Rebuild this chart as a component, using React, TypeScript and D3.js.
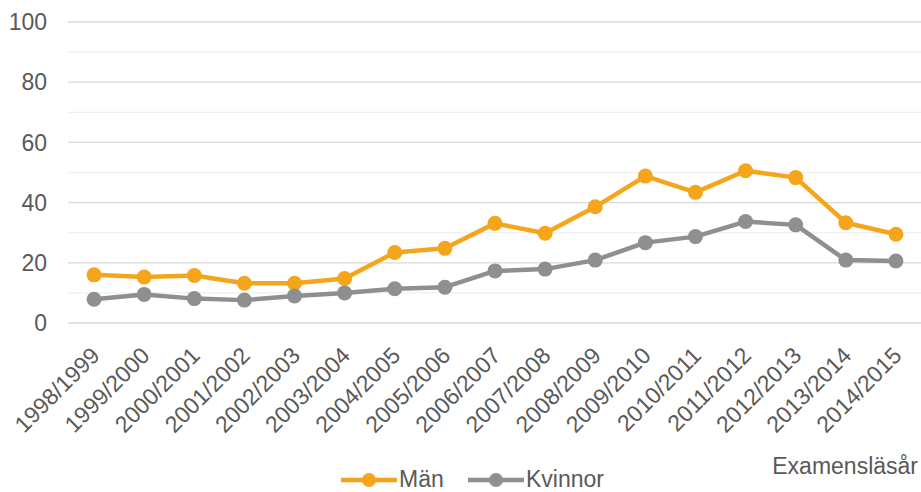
import * as d3 from "d3";
import { useEffect, useRef } from "react";

const years = [
  "1998/1999", "1999/2000", "2000/2001", "2001/2002", "2002/2003", "2003/2004",
  "2004/2005", "2005/2006", "2006/2007", "2007/2008", "2008/2009", "2009/2010",
  "2010/2011", "2011/2012", "2012/2013", "2013/2014", "2014/2015",
];
const man = [16.0, 15.3, 15.8, 13.2, 13.2, 14.8, 23.4, 24.8, 33.1, 29.8, 38.6, 48.8, 43.4, 50.6, 48.3, 33.3, 29.5];
const kvinnor = [7.9, 9.5, 8.1, 7.6, 9.0, 10.0, 11.4, 11.9, 17.3, 17.9, 20.9, 26.7, 28.7, 33.7, 32.6, 20.9, 20.6];
const majorTicks = [0, 20, 40, 60, 80, 100];
const minorTicks = [10, 30, 50, 70, 90];

const series = [
  { name: "Män", values: man, color: "#F4A51C" },
  { name: "Kvinnor", values: kvinnor, color: "#8E8F91" },
];

const W = 921;
const H = 492;
const textColor = "#595959";
const font = "'Liberation Sans', Arial, sans-serif";

function LineChart() {
  const ref = useRef<SVGSVGElement>(null);

  useEffect(() => {
    const svg = d3.select(ref.current);
    svg.selectAll("*").remove();

    const x = d3.scaleBand().domain(years).range([69, 921]);
    const y = d3.scaleLinear().domain([0, 100]).range([323, 22]);
    const cx = (d: string) => (x(d) as number) + x.bandwidth() / 2;

    // gridlines
    svg.append("g")
      .selectAll("line")
      .data(minorTicks)
      .join("line")
      .attr("x1", 68).attr("x2", W)
      .attr("y1", (d) => y(d)).attr("y2", (d) => y(d))
      .attr("stroke", "#f0f0f0").attr("stroke-width", 1.3);

    svg.append("g")
      .selectAll("line")
      .data(majorTicks)
      .join("line")
      .attr("x1", 68).attr("x2", W)
      .attr("y1", (d) => y(d)).attr("y2", (d) => y(d))
      .attr("stroke", "#d9d9d9").attr("stroke-width", 1.3);

    // y labels
    svg.append("g")
      .selectAll("text")
      .data(majorTicks)
      .join("text")
      .attr("x", 47)
      .attr("y", (d) => y(d))
      .attr("dy", "0.36em")
      .attr("text-anchor", "end")
      .text((d) => d);

    // x labels
    svg.append("g")
      .selectAll("text")
      .data(years)
      .join("text")
      .attr("text-anchor", "end")
      .attr("transform", (d) => `translate(${cx(d) + 7},357) rotate(-45)`)
      .text((d) => d);

    const line = d3.line<number>()
      .x((_, i) => cx(years[i]))
      .y((d) => y(d));

    series.forEach((s) => {
      const g = svg.append("g");
      g.append("path")
        .attr("d", line(s.values))
        .attr("fill", "none")
        .attr("stroke", s.color)
        .attr("stroke-width", 4.5)
        .attr("stroke-linejoin", "round");
      g.selectAll("circle")
        .data(s.values)
        .join("circle")
        .attr("cx", (_, i) => cx(years[i]))
        .attr("cy", (d) => y(d))
        .attr("r", 7.5)
        .attr("fill", s.color);
    });

    // axis title
    svg.append("text")
      .attr("x", 918)
      .attr("y", 474)
      .attr("text-anchor", "end")
      .text("Examensläsår");

    // legend (nudged up a little so the text is not clipped)
    const legendX = [341, 468];
    const legend = svg.append("g")
      .selectAll("g")
      .data(series)
      .join("g")
      .attr("transform", (_, i) => `translate(${legendX[i]},480)`);
    legend.append("line")
      .attr("x1", 0).attr("x2", 56)
      .attr("stroke", (d) => d.color)
      .attr("stroke-width", 4.5);
    legend.append("circle")
      .attr("cx", 28).attr("r", 7)
      .attr("fill", (d) => d.color);
    legend.append("text")
      .attr("x", 58)
      .attr("y", 7)
      .text((d) => d.name);
  }, []);

  return (
    <svg
      ref={ref}
      width={W}
      height={H}
      style={{ position: "absolute", left: 0, top: 0, display: "block" }}
      fontFamily={font}
      fontSize={23}
      fill={textColor}
    />
  );
}

export default function App() {
  return <LineChart />;
}
